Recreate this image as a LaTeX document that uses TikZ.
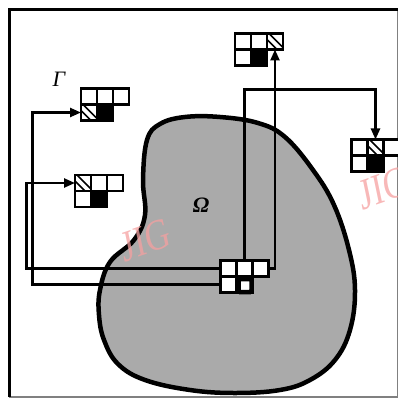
\documentclass[tikz,border=0pt]{standalone}
\usepackage{fontspec}
\setmainfont{Liberation Serif}
\usetikzlibrary{arrows.meta}
\definecolor{blobgray}{RGB}{170,170,170}
\definecolor{wmpink}{RGB}{245,160,160}
\tikzset{
  cell/.style={draw, line width=2.1pt, fill=white, minimum size=16pt, inner sep=0pt, outer sep=0pt},
  blackcell/.style={cell, fill=black},
  hatchcell/.style={cell, path picture={
      \draw[line width=1.5pt] ([xshift=2pt]path picture bounding box.north west) -- ([yshift=2pt]path picture bounding box.south east);
      \draw[line width=1.5pt] ([yshift=-6pt]path picture bounding box.north west) -- ([xshift=-6pt]path picture bounding box.south east);
  }},
  conn/.style={line width=2.4pt},
  arr/.style={conn, -{Triangle[length=11pt,width=9pt]}},
  wm/.style={text=wmpink, opacity=0.75, font=\fontsize{44}{48}\selectfont, xscale=0.78, rotate=15, inner sep=0pt},
}
\begin{document}
\begin{tikzpicture}[x=1pt,y=-1pt]
\useasboundingbox (0,0) rectangle (398,398);
\begin{scope}
\clip (0,0) rectangle (398,398);
% frame
\draw[line width=1.8pt, gray] (9,9.5) -- (397.5,9.5) -- (397.5,397) -- (9,397);
\draw[line width=3pt] (9,397) -- (9,9.5) -- (397.5,9.5);
% domain
\draw[line width=4.5pt, fill=blobgray]
  plot[smooth cycle, tension=0.65] coordinates {
   (147,140) (143,180) (145,215) (134,240) (110,262) (100,290) (99,315)
   (104,340) (118,364) (145,380) (190,390) (235,393) (280,390) (310,380)
   (335,360) (350,330) (355,290) (349,250) (334,205) (313,170) (285,137)
   (258,123) (220,117) (185,117) (160,124)};
% watermarks
\node[wm] (wm1) at (146,240) {JIG};
\node[wm] (wm2) at (384,188) {JIG};
% grids
\node[cell] (T1) at (243,41.5) {};
\node[cell] (T2) at (259,41.5) {};
\node[hatchcell] (T3) at (275,41.5) {};
\node[cell] (T4) at (243,57.5) {};
\node[blackcell] (T5) at (259,57.5) {};

\node[cell] (R1) at (359.5,147.5) {};
\node[hatchcell] (R2) at (375.5,147.5) {};
\node[cell] (R3) at (391.5,147.5) {};
\node[cell] (R4) at (359.5,163.5) {};
\node[blackcell] (R5) at (375.5,163.5) {};

\node[cell] (G1) at (89,96.5) {};
\node[cell] (G2) at (105,96.5) {};
\node[cell] (G3) at (121,96.5) {};
\node[hatchcell] (G4) at (89,112.5) {};
\node[blackcell] (G5) at (105,112.5) {};

\node[hatchcell] (L1) at (83,183) {};
\node[cell] (L2) at (99,183) {};
\node[cell] (L3) at (115,183) {};
\node[cell] (L4) at (83,199) {};
\node[blackcell] (L5) at (99,199) {};

\node[cell] (C1) at (228.5,268.5) {};
\node[cell] (C2) at (244.5,268.5) {};
\node[cell] (C3) at (260.5,268.5) {};
\node[cell] (C4) at (228.5,284.5) {};
\node[cell] (C5) at (244.5,284.5) {};
\draw[line width=4.5pt, rounded corners=1.5pt] (238.5,279) rectangle (251.5,292);
% connectors
\coordinate (k1) at (0,89.5);
\coordinate (k2) at (26.5,0);
\coordinate (k3) at (32.5,0);
\draw[arr] (C2.north) -- (C2.north |- k1) -| (R2.north);
\draw[arr] (C3.east) -| (T3.south);
\draw[arr] (C1.west) -- (C1.west -| k2) |- (L1.west);
\draw[arr] (C4.west) -- (C4.west -| k3) |- (G4.west);
% labels
\node[font=\fontsize{22}{24}\selectfont\itshape] (gam) at (59,79) {Γ};
\node[font=\fontsize{22}{24}\selectfont\bfseries\itshape] (om) at (201,205) {Ω};
\end{scope}
\end{tikzpicture}
\end{document}
